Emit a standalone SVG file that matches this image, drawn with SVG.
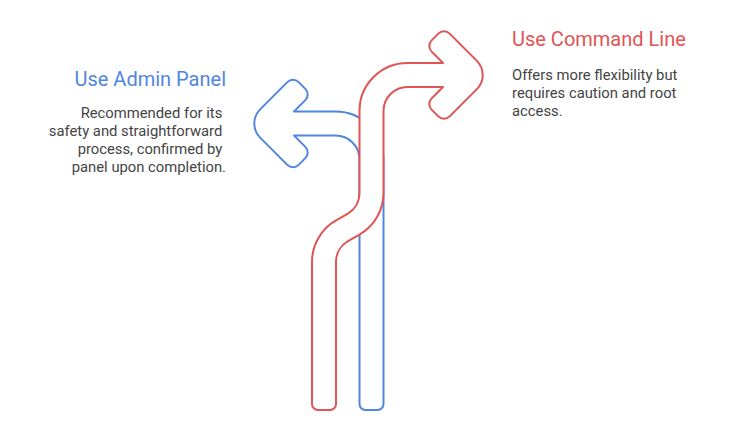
<svg xmlns="http://www.w3.org/2000/svg" width="744" height="445" viewBox="0 0 744 445">
<style>
.shape{fill:#ffffff;stroke-width:2;stroke-linejoin:round}
.blue{stroke:#5086E0}
.red{stroke:#E05454}
.title{font-family:Roboto,"Liberation Sans",sans-serif;font-size:20px}
.body{font-family:Roboto,"Liberation Sans",sans-serif;font-size:14.8px;fill:#444444}
</style>
<rect width="744" height="445" fill="#ffffff"/>
<g id="connectors">
<g id="arrow-admin">
<path class="shape blue" d="M294 111.5 H335.5 A48 48 0 0 1 383.5 159.5 V404 A6 6 0 0 1 377.5 410 H365.5 A6 6 0 0 1 359.5 404 V159.5 A24 24 0 0 0 335.5 135.5 H294 L305.34 146.84 A8 8 0 0 1 305.34 158.16 L298.66 164.84 A8 8 0 0 1 287.34 164.84 L260.14 137.64 A20 20 0 0 1 260.14 109.36 L287.34 82.16 A8 8 0 0 1 298.66 82.16 L305.34 88.84 A8 8 0 0 1 305.34 100.16 Z"/>
</g>
<g id="arrow-cli">
<path class="shape red" d="M312 404 V262 A48 48 0 0 1 336 220.43 L347.5 213.78 A24 24 0 0 0 359.5 193 V111 A48 48 0 0 1 407.5 63 H443 L431.66 51.66 A8 8 0 0 1 431.66 40.34 L438.34 33.66 A8 8 0 0 1 449.66 33.66 L476.86 60.86 A20 20 0 0 1 476.86 89.14 L449.66 116.34 A8 8 0 0 1 438.34 116.34 L431.66 109.66 A8 8 0 0 1 431.66 98.34 L443 87 H407.5 A24 24 0 0 0 383.5 111 V193 A48 48 0 0 1 359.5 234.57 L348 241.22 A24 24 0 0 0 336 262 V404 A6 6 0 0 1 330 410 H318 A6 6 0 0 1 312 404 Z"/>
</g>
</g>
<g id="node-admin">
<text class="title" x="226" y="86" text-anchor="end" fill="#5086E0">Use Admin Panel</text>
<text class="body" text-anchor="end">
<tspan x="226" y="118">Recommended for its</tspan>
<tspan x="226" y="136">safety and straightforward</tspan>
<tspan x="226" y="154">process, confirmed by</tspan>
<tspan x="226" y="172">panel upon completion.</tspan>
</text>
</g>
<g id="node-cli">
<text class="title" x="512" y="46" fill="#E05454">Use Command Line</text>
<text class="body">
<tspan x="512" y="80">Offers more flexibility but</tspan>
<tspan x="512" y="98">requires caution and root</tspan>
<tspan x="512" y="116">access.</tspan>
</text>
</g>
</svg>
